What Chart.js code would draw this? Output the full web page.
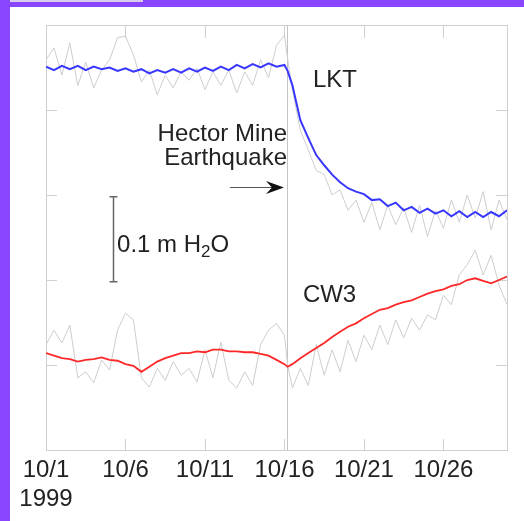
<!DOCTYPE html>
<html>
<head>
<meta charset="utf-8">
<script src="https://cdn.jsdelivr.net/npm/chart.js@4"></script>
<style>
  html, body { margin: 0; padding: 0; background: #fff; }
  #wrap { position: relative; width: 524px; height: 521px; overflow: hidden; }
  #myChart { position: absolute; left: 0; top: 0; }
  .edge { position: absolute; background: #8a45ff; }
</style>
</head>
<body>
<div id="wrap">
  <canvas id="myChart" width="524" height="521"></canvas>
  <div class="edge" style="left:0;top:0;width:10px;height:521px"></div>
  <div class="edge" style="left:0;top:0;width:524px;height:7px"></div>
  <div style="position:absolute;left:10px;top:0;width:133px;height:2px;background:#d9cdee"></div>
</div>
<script>
{
  'use strict';

  // 10月の日（半日ごと + 地震直後）
  const days = [1, 1.5, 2, 2.5, 3, 3.5, 4, 4.5, 5, 5.5, 6, 6.5, 7, 7.5, 8, 8.5, 9, 9.5, 10, 10.5,
    11, 11.5, 12, 12.5, 13, 13.5, 14, 14.5, 15, 15.5, 16, 16.2, 16.5, 17, 17.5, 18, 18.5, 19, 19.5, 20,
    20.5, 21, 21.5, 22, 22.5, 23, 23.5, 24, 24.5, 25, 25.5, 26, 26.5, 27, 27.5, 28, 28.5, 29, 29.5, 30];

  const tickDays = [1, 6, 11, 16, 21, 26];
  const tickLabels = [['10/1', '1999'], '10/6', '10/11', '10/16', '10/21', '10/26'];
  const levelTicks = [10, 20, 30, 40];

  // 水位 (cm H2O, 相対値)
  const lktRaw = [45.9, 47.3, 44.1, 47.9, 42.9, 45.6, 42.6, 44.7, 45.9, 48.5, 48.7, 46.5, 43.3, 44.7, 41.8, 44.1,
    42.6, 44.5, 43.5, 44.9, 42.4, 44.5, 42.9, 44.7, 42.0, 44.5, 42.9, 45.9, 43.8, 47.6, 48.8, 46.0,
    42.4, 37.6, 35.3, 32.9, 32.4, 30.0, 30.6, 28.2, 29.4, 26.8, 29.1, 25.9, 28.8, 26.5, 28.5, 25.6,
    28.8, 25.1, 28.2, 26.1, 29.4, 26.8, 30.0, 27.3, 30.4, 25.9, 29.4, 27.1];
  const lktFiltered = [45.1, 44.7, 45.2, 44.8, 45.2, 44.7, 45.1, 44.8, 45.0, 44.6, 44.9, 44.5, 44.8, 44.3, 44.7, 44.4,
    44.8, 44.4, 44.9, 44.5, 45.0, 44.6, 45.1, 44.7, 45.3, 44.9, 45.4, 45.0, 45.5, 45.1, 45.3, 44.6,
    42.9, 38.8, 36.7, 34.7, 33.5, 32.4, 31.5, 30.8, 30.4, 30.1, 29.4, 29.5, 28.7, 29.1, 28.2, 28.6,
    27.9, 28.4, 27.8, 28.2, 27.5, 28.1, 27.4, 28.0, 27.4, 28.0, 27.5, 28.2];
  const cw3Raw = [12.4, 14.1, 12.6, 14.7, 8.5, 9.2, 7.9, 10.6, 9.4, 14.1, 16.1, 15.3, 8.5, 7.4, 9.6, 8.2,
    10.4, 8.8, 9.6, 8.0, 11.8, 8.5, 12.7, 8.2, 7.3, 9.2, 7.6, 12.4, 14.1, 14.9, 13.5, 10.0,
    7.3, 9.6, 7.6, 12.4, 8.8, 11.8, 9.2, 12.9, 10.4, 13.5, 11.8, 14.7, 12.4, 15.3, 13.2, 15.5,
    14.1, 15.9, 15.3, 18.2, 17.1, 20.6, 21.8, 23.5, 20.6, 22.9, 19.4, 17.1];
  const cw3Filtered = [11.4, 11.1, 10.8, 10.7, 10.4, 10.6, 10.7, 10.9, 10.6, 10.5, 10.1, 9.9, 9.2, 9.8, 10.4, 10.8,
    11.1, 11.4, 11.4, 11.6, 11.5, 11.8, 11.8, 11.6, 11.6, 11.5, 11.5, 11.3, 11.1, 10.6, 10.1, 9.8,
    10.1, 10.8, 11.4, 12.0, 12.6, 13.3, 13.9, 14.5, 14.9, 15.5, 16.0, 16.5, 16.7, 17.1, 17.4, 17.6,
    18.0, 18.4, 18.7, 18.9, 19.3, 19.5, 20.0, 20.2, 19.9, 19.6, 20.0, 20.4];

  const quakeDay = 16.15;
  const FONT = '"Liberation Sans", Arial, Helvetica, sans-serif';

  const toPoints = arr => days.map((d, i) => ({ x: d, y: arr[i] }));

  // 枠・目盛り・注記を描くプラグイン
  const decorations = {
    id: 'decorations',
    beforeDatasetsDraw(chart) {
      const { ctx, chartArea: a, scales: { x, y } } = chart;
      ctx.save();
      ctx.strokeStyle = '#d0d0d0';
      ctx.lineWidth = 1;
      ctx.strokeRect(a.left + 0.5, a.top + 0.5, a.right - a.left, a.bottom - a.top);
      ctx.beginPath();
      tickDays.forEach(d => {
        const px = Math.round(x.getPixelForValue(d)) + 0.5;
        ctx.moveTo(px, a.bottom); ctx.lineTo(px, a.bottom - 11);
        ctx.moveTo(px, a.top); ctx.lineTo(px, a.top + 13);
      });
      levelTicks.forEach(v => {
        const py = Math.round(y.getPixelForValue(v)) + 0.5;
        ctx.moveTo(a.left, py); ctx.lineTo(a.left + 11, py);
        ctx.moveTo(a.right, py); ctx.lineTo(a.right - 11, py);
      });
      ctx.stroke();

      // 地震の時刻
      const qx = Math.round(x.getPixelForValue(quakeDay)) + 0.5;
      ctx.strokeStyle = '#c4c4c4';
      ctx.beginPath();
      ctx.moveTo(qx, a.top);
      ctx.lineTo(qx, a.bottom);
      ctx.stroke();
      ctx.restore();
    },
    afterDatasetsDraw(chart) {
      const { ctx, scales: { x, y } } = chart;
      ctx.save();
      ctx.fillStyle = '#222';
      ctx.font = '24px ' + FONT;
      ctx.textBaseline = 'alphabetic';

      ctx.textAlign = 'left';
      ctx.fillText('LKT', x.getPixelForValue(17.79), y.getPixelForValue(42.7));
      ctx.fillText('CW3', x.getPixelForValue(17.16), y.getPixelForValue(17.4));

      ctx.textAlign = 'right';
      ctx.fillText('Hector Mine', x.getPixelForValue(16.16), y.getPixelForValue(36.35));
      ctx.fillText('Earthquake', x.getPixelForValue(16.16), y.getPixelForValue(33.5));

      // 矢印
      const ay = Math.round(y.getPixelForValue(30.9)) + 0.5;
      const ax0 = x.getPixelForValue(12.57);
      const ax1 = x.getPixelForValue(15.97);
      ctx.strokeStyle = '#555';
      ctx.lineWidth = 1;
      ctx.beginPath();
      ctx.moveTo(ax0, ay);
      ctx.lineTo(ax1 - 8, ay);
      ctx.stroke();
      ctx.fillStyle = '#111';
      ctx.beginPath();
      ctx.moveTo(ax1, ay);
      ctx.lineTo(ax1 - 18, ay - 6.5);
      ctx.lineTo(ax1 - 12, ay);
      ctx.lineTo(ax1 - 18, ay + 6.5);
      ctx.closePath();
      ctx.fill();

      // スケールバー 0.1 m H2O
      const sx = Math.round(x.getPixelForValue(5.21)) + 0.5;
      const sy0 = y.getPixelForValue(19.8);
      const sy1 = y.getPixelForValue(29.8);
      ctx.strokeStyle = '#666';
      ctx.lineWidth = 1.5;
      ctx.beginPath();
      ctx.moveTo(sx, sy0); ctx.lineTo(sx, sy1);
      ctx.moveTo(sx - 4, sy0); ctx.lineTo(sx + 4, sy0);
      ctx.moveTo(sx - 4, sy1); ctx.lineTo(sx + 4, sy1);
      ctx.stroke();

      ctx.fillStyle = '#222';
      ctx.textAlign = 'left';
      let tx = x.getPixelForValue(5.47);
      const ty = y.getPixelForValue(23.3);
      const part1 = '0.1 m H';
      ctx.fillText(part1, tx, ty);
      tx += ctx.measureText(part1).width;
      ctx.font = '17px ' + FONT;
      ctx.fillText('2', tx, ty + 5);
      tx += ctx.measureText('2').width;
      ctx.font = '24px ' + FONT;
      ctx.fillText('O', tx, ty);
      ctx.restore();
    }
  };

  const data = {
    datasets: [{
      label: 'LKT',
      data: toPoints(lktFiltered),
      borderColor: 'rgb(55, 55, 255)',
      borderWidth: 2,
      pointRadius: 0,
    }, {
      label: 'CW3',
      data: toPoints(cw3Filtered),
      borderColor: 'rgb(255, 40, 40)',
      borderWidth: 1.8,
      pointRadius: 0,
    }, {
      label: 'LKT raw',
      data: toPoints(lktRaw),
      borderColor: '#cdcdcd',
      borderWidth: 1,
      pointRadius: 0,
    }, {
      label: 'CW3 raw',
      data: toPoints(cw3Raw),
      borderColor: '#cdcdcd',
      borderWidth: 1,
      pointRadius: 0,
    }]
  };

  const options = {
    responsive: false,
    animation: false,
    devicePixelRatio: 1,
    layout: {
      padding: { left: 46, right: 17, top: 25, bottom: 0 }
    },
    scales: {
      x: {
        type: 'linear',
        position: 'bottom',
        min: 1,
        max: 30,
        afterBuildTicks: scale => {
          scale.ticks = tickDays.map(v => ({ value: v }));
        },
        afterFit: scale => {
          scale.height = 71;
        },
        grid: { display: false, drawTicks: false },
        border: { display: false },
        ticks: {
          autoSkip: false,
          maxRotation: 0,
          padding: 6,
          color: '#222',
          font: { family: FONT, size: 24, lineHeight: 1.2 },
          callback: value => {
            const i = tickDays.indexOf(value);
            return i >= 0 ? tickLabels[i] : '';
          }
        }
      },
      y: {
        display: false,
        min: 0,
        max: 50,
      }
    },
    plugins: {
      legend: { display: false },
      tooltip: { enabled: false },
    },
  };

  const ctx = document.getElementById('myChart').getContext('2d');
  new Chart(ctx, {
    type: 'line',
    data: data,
    options: options,
    plugins: [decorations],
  });
}
</script>
</body>
</html>
